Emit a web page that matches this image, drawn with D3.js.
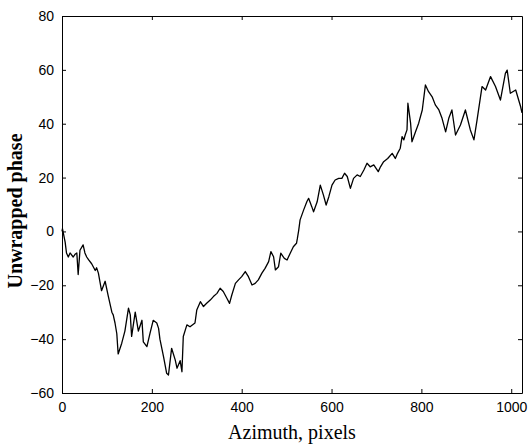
<!DOCTYPE html>
<meta charset="utf-8">
<style>
body { margin: 0; background: #fff; }
.axis text { font: 14px "Liberation Sans", Arial, sans-serif; fill: #000; }
.axis path, .axis line { stroke: #000; stroke-width: 1px; }
.label { font: 20px "Liberation Serif", "Times New Roman", serif; fill: #000; }
.label.y { font-weight: bold; }
.trace { fill: none; stroke: #000; stroke-width: 1.3px; stroke-linejoin: round; }
</style>
<body>
<div id="chart"></div>
<script src="https://cdnjs.cloudflare.com/ajax/libs/d3/7.8.5/d3.min.js"></script>
<script>
// azimuth position (pixels) and unwrapped phase
var azimuth = [0, 1, 7, 10, 14, 18, 25, 29, 33, 36, 40, 47, 51, 55, 59, 66, 74, 77, 81, 88,
  96, 103, 111, 114, 118, 122, 125, 133, 140, 148, 152, 155, 163, 170, 178, 181, 189, 196, 203, 211,
  215, 218, 226, 233, 237, 244, 252, 256, 263, 267, 270, 278, 285, 296, 300, 308, 315, 322, 330, 337,
  345, 352, 359, 367, 373, 378, 386, 393, 400, 408, 415, 423, 430, 437, 445, 452, 460, 465, 471, 475,
  482, 487, 495, 501, 508, 515, 522, 524, 527, 530, 538, 545, 549, 556, 560, 568, 575, 582, 588, 594,
  601, 608, 616, 623, 629, 635, 642, 649, 657, 664, 672, 679, 686, 694, 704, 709, 716, 725, 735, 742,
  747, 753, 757, 761, 764, 768, 770, 776, 779, 787, 794, 802, 809, 816, 824, 831, 839, 846, 854, 861,
  868, 876, 887, 898, 909, 917, 924, 935, 943, 954, 965, 976, 987, 991, 998, 1010, 1021, 1024];
var phase = [0, 1, -4, -8, -9.5, -8, -9.5, -8.5, -8, -16, -7, -5, -8, -9.5, -10.5, -12, -14.5, -13.5, -15.5, -22,
  -18.5, -24, -30, -31, -34, -38, -45.5, -41.5, -37, -28.5, -31, -39, -30, -37, -33, -41, -42.8, -37.8, -33, -34,
  -36, -40, -46.5, -52.7, -53.3, -43.4, -47.7, -50.8, -48, -52.1, -39, -34.7, -35.4, -34, -29.2, -26.1, -27.9, -26.7, -25.5, -24.2,
  -23, -21.1, -22.3, -24.8, -26.7, -23.6, -19.3, -18, -16.8, -14.9, -16.8, -19.9, -19.3, -18, -15.5, -13.7, -11.2, -7.5, -9.4, -14.3,
  -13.1, -8.1, -10, -10.6, -8.1, -5.7, -4.4, -2.6, 0.5, 4.3, 8, 11, 12.3, 9.2, 7.3, 11, 17.2, 13.5, 9.8, 12.9,
  17.2, 19.1, 19.7, 19.7, 21.6, 20.4, 16, 19.7, 21, 20.4, 22.8, 25.3, 24, 24.7, 22.2, 24, 25.9, 27.1, 29, 27.1,
  29, 30.9, 35.2, 34, 35.8, 37.7, 47.6, 40.2, 33.3, 37, 40.2, 45.1, 54.4, 51.9, 50, 47, 45.1, 42, 37, 42,
  45.1, 35.8, 39.5, 45.1, 37.7, 34, 41.4, 53.8, 52.5, 57.5, 53.8, 48.8, 58.7, 59.9, 51.3, 52.5, 46.3, 44];
var xTicks = [0, 200, 400, 600, 800, 1000];
var yTicks = [-60, -40, -20, 0, 20, 40, 60, 80];

var W = 529, H = 447;
var margin = {top: 16, right: 7, bottom: 54, left: 62},
    width = W - margin.left - margin.right,
    height = H - margin.top - margin.bottom;

var x = d3.scaleLinear().domain([0, 1024]).range([0, width]);
var y = d3.scaleLinear().domain([-60, 80]).range([height, 0]);

var svg = d3.select("#chart").append("svg")
    .attr("width", W)
    .attr("height", H)
  .append("g")
    .attr("transform", "translate(" + margin.left + "," + margin.top + ")");

var pts = azimuth.map(function(a, i) { return [a, phase[i]]; });

svg.append("path")
    .attr("class", "trace")
    .attr("d", d3.line().x(function(d) { return x(d[0]); }).y(function(d) { return y(d[1]); })(pts));

// inward ticks on all four sides, labels only bottom and left
svg.append("g").attr("class", "axis")
    .attr("transform", "translate(0," + height + ")")
    .call(d3.axisBottom(x).tickValues(xTicks).tickFormat(d3.format("d"))
      .tickSizeInner(-4).tickSizeOuter(0).tickPadding(9));
svg.append("g").attr("class", "axis")
    .call(d3.axisLeft(y).tickValues(yTicks).tickFormat(d3.format("d"))
      .tickSizeInner(-4).tickSizeOuter(0).tickPadding(8));
svg.append("g").attr("class", "axis")
    .call(d3.axisTop(x).tickValues(xTicks).tickSizeInner(-4).tickSizeOuter(0).tickFormat(""));
svg.append("g").attr("class", "axis")
    .attr("transform", "translate(" + width + ",0)")
    .call(d3.axisRight(y).tickValues(yTicks).tickSizeInner(-4).tickSizeOuter(0).tickFormat(""));

svg.append("text")
    .attr("class", "label")
    .attr("text-anchor", "middle")
    .attr("x", width / 2)
    .attr("y", height + 46)
    .text("Azimuth, pixels");

svg.append("text")
    .attr("class", "label y")
    .attr("text-anchor", "middle")
    .attr("transform", "translate(" + (22 - margin.left) + "," + (211 - margin.top) + ")rotate(-90)")
    .text("Unwrapped phase");
</script>
</body>
